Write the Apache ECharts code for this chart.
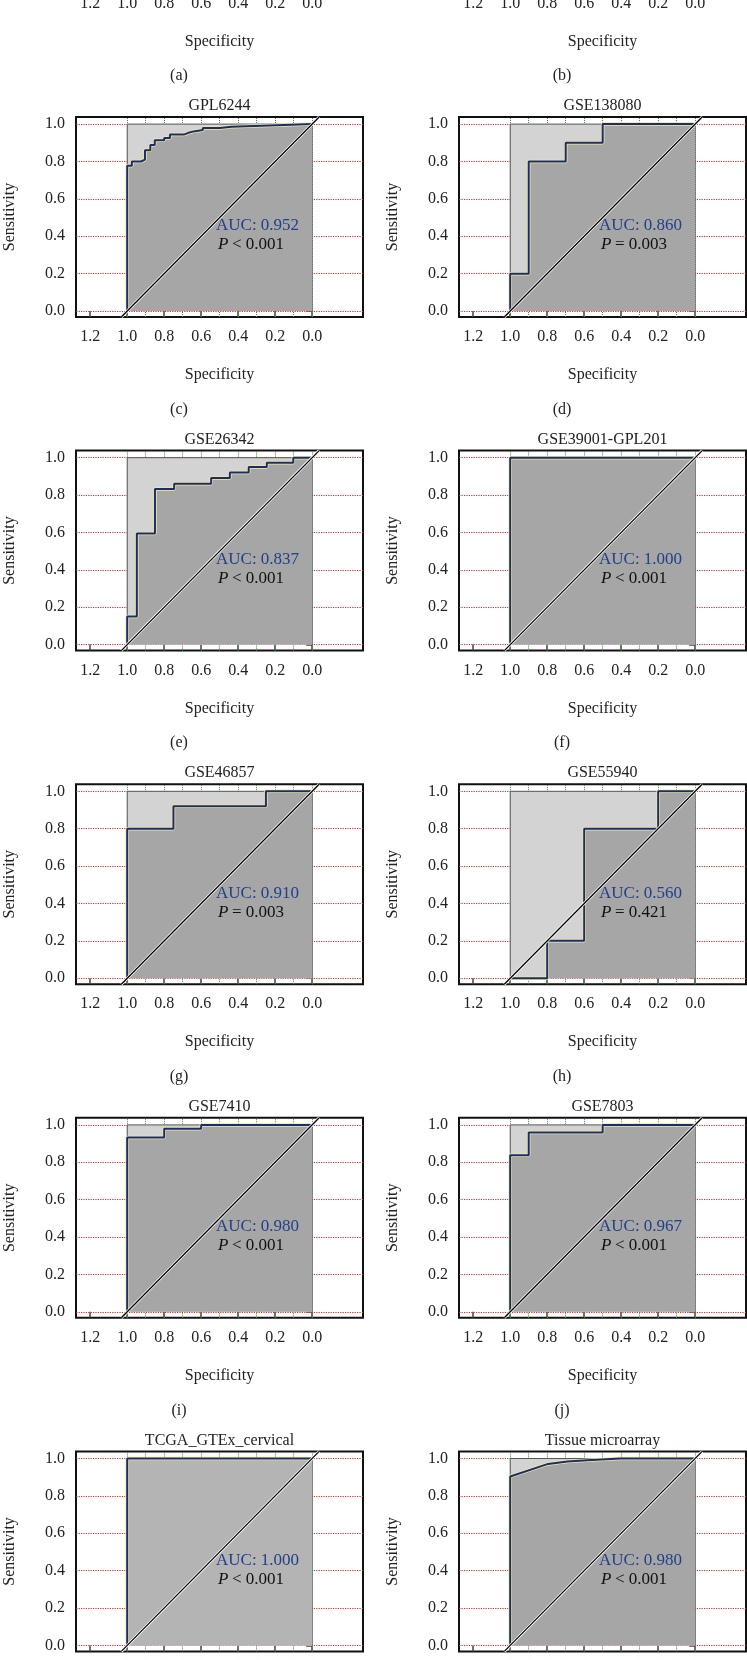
<!DOCTYPE html>
<html>
<head>
<meta charset="utf-8">
<script src="https://cdn.jsdelivr.net/npm/echarts@6/dist/echarts.min.js"></script>
<style>
html,body{margin:0;padding:0;width:747px;height:1660px;overflow:hidden;background:#fff;}
#main{position:absolute;left:0;top:-334px;width:747px;height:2040px;}
</style>
</head>
<body>
<div id="main"></div>
<script>
// 面板名称 (a)(b) 在可见区域上方，只露出x轴刻度
var titles = ['', '', 'GPL6244', 'GSE138080', 'GSE26342', 'GSE39001-GPL201', 'GSE46857', 'GSE55940',
              'GSE7410', 'GSE7803', 'TCGA_GTEx_cervical', 'Tissue microarray'];
var tags = ['(a)', '(b)', '(c)', '(d)', '(e)', '(f)', '(g)', '(h)', '(i)', '(j)', '(k)', '(l)'];
var aucText = ['', '', '0.952', '0.860', '0.837', '1.000', '0.910', '0.560', '0.980', '0.967', '1.000', '0.980'];
var pText = ['', '', '< 0.001', '= 0.003', '< 0.001', '< 0.001', '= 0.003', '= 0.421', '< 0.001', '< 0.001', '< 0.001', '< 0.001'];

// ROC 曲线顶点 (specificity, sensitivity)
var spec_GPL6244 = [1, 1, 0.975, 0.975, 0.925, 0.925, 0.904, 0.904, 0.875, 0.875, 0.851, 0.851, 0.80, 0.80, 0.769, 0.769,
                    0.694, 0.694, 0.673, 0.673, 0.641, 0.641, 0.591, 0.591, 0.498, 0.498, 0.436, 0.436, 0.151, 0.151, 0];
var sens_GPL6244 = [0, 0.777, 0.777, 0.80, 0.80, 0.81, 0.81, 0.86, 0.86, 0.888, 0.888, 0.914, 0.914, 0.926, 0.926, 0.944,
                    0.944, 0.952, 0.952, 0.961, 0.961, 0.968, 0.968, 0.979, 0.979, 0.986, 0.986, 0.995, 0.995, 1, 1];
var spec_GSE138080 = [1, 1, 0.9, 0.9, 0.7, 0.7, 0.5, 0.5, 0];
var sens_GSE138080 = [0, 0.2, 0.2, 0.8, 0.8, 0.9, 0.9, 1, 1];
var spec_GSE26342 = [1, 1, 0.948, 0.948, 0.85, 0.85, 0.746, 0.746, 0.546, 0.546, 0.445, 0.445, 0.343, 0.343, 0.245, 0.245, 0.102, 0.102, 0];
var sens_GSE26342 = [0, 0.15, 0.15, 0.594, 0.594, 0.832, 0.832, 0.86, 0.86, 0.891, 0.891, 0.921, 0.921, 0.95, 0.95, 0.973, 0.973, 1, 1];
var spec_GSE39001 = [1, 1, 0];
var sens_GSE39001 = [0, 1, 1];
var spec_GSE46857 = [1, 1, 0.75, 0.75, 0.25, 0.25, 0];
var sens_GSE46857 = [0, 0.8, 0.8, 0.92, 0.92, 1, 1];
var spec_GSE55940 = [1, 0.8, 0.8, 0.6, 0.6, 0.2, 0.2, 0];
var sens_GSE55940 = [0, 0, 0.2, 0.2, 0.8, 0.8, 1, 1];
var spec_GSE7410 = [1, 1, 0.8, 0.8, 0.6, 0.6, 0];
var sens_GSE7410 = [0, 0.932, 0.932, 0.979, 0.979, 1, 1];
var spec_GSE7803 = [1, 1, 0.9, 0.9, 0.5, 0.5, 0];
var sens_GSE7803 = [0, 0.837, 0.837, 0.959, 0.959, 1, 1];
var spec_TCGA = [1, 1, 0];
var sens_TCGA = [0, 1, 1];
var spec_TMA = [1, 1, 0.795, 0.69, 0.583, 0.404, 0];
var sens_TMA = [0, 0.904, 0.971, 0.984, 0.991, 1, 1];

var curveSpec = [null, null, spec_GPL6244, spec_GSE138080, spec_GSE26342, spec_GSE39001, spec_GSE46857,
                 spec_GSE55940, spec_GSE7410, spec_GSE7803, spec_TCGA, spec_TMA];
var curveSens = [null, null, sens_GPL6244, sens_GSE138080, sens_GSE26342, sens_GSE39001, sens_GSE46857,
                 sens_GSE55940, sens_GSE7410, sens_GSE7803, sens_TCGA, sens_TMA];

var xTicks = [0, 0.2, 0.4, 0.6, 0.8, 1.0, 1.2];
var yTicks = [0, 0.2, 0.4, 0.6, 0.8, 1.0];
var vGrid = [0, 0.1, 0.2, 0.3, 0.4, 0.5, 0.6, 0.7, 0.8, 0.9, 1.0];
var unitSquare = [[1, 0], [1, 1], [0, 1], [0, 0]];

var X_MIN = -0.275, X_MAX = 1.277, Y_MIN = -0.032, Y_MAX = 1.038;
var SHIFT = 334;          // 容器上移的像素
var BOX_W = 287, BOX_H = 200;
var colLeft = [76, 459];
var PITCH = 333.6;
var FONT = '"Liberation Serif", "DejaVu Serif", serif';

function buildOption() {
	var grids = [], xAxes = [], yAxes = [], series = [], graphics = [];
	for (var i = 0; i < 12; i++) {
		var col = i % 2, row = Math.floor(i / 2);
		var boxLeft = colLeft[col];
		var boxTop = 117 + PITCH * (row - 1) + SHIFT;

		grids.push({
			left: boxLeft, top: boxTop, width: BOX_W, height: BOX_H,
			show: true, backgroundColor: '#fff', borderColor: '#111', borderWidth: 2
		});
		xAxes.push({
			gridIndex: i, type: 'value', inverse: true, min: X_MIN, max: X_MAX,
			axisLine: {show: false},
			axisTick: {show: true, customValues: xTicks, length: 6, lineStyle: {color: '#444', width: 1.5}},
			axisLabel: {customValues: xTicks, margin: 12, color: '#222', fontSize: 16, fontFamily: FONT,
				formatter: function (v) { return (+v).toFixed(1); }},
			splitLine: {show: false}
		});
		yAxes.push({
			gridIndex: i, type: 'value', min: Y_MIN, max: Y_MAX,
			axisLine: {show: false},
			axisTick: {show: true, customValues: yTicks, length: 6, lineStyle: {color: '#444', width: 1.5}},
			axisLabel: {customValues: yTicks, margin: 11, color: '#222', fontSize: 16, fontFamily: FONT,
				formatter: function (v) { return (+v).toFixed(1); }},
			splitLine: {show: false}
		});

		// 框外文字
		graphics.push({type: 'text', x: boxLeft + 103, y: boxTop + 292.6, silent: true,
			style: {text: tags[i], fill: '#222', font: '16px ' + FONT, align: 'center', verticalAlign: 'middle'}});
		graphics.push({type: 'text', x: boxLeft + BOX_W / 2, y: boxTop + 258, silent: true,
			style: {text: 'Specificity', fill: '#222', font: '16px ' + FONT, align: 'center', verticalAlign: 'middle'}});
		graphics.push({type: 'text', x: boxLeft + BOX_W / 2, y: boxTop - 11, silent: true,
			style: {text: titles[i], fill: '#222', font: '16px ' + FONT, align: 'center', verticalAlign: 'middle'}});
		graphics.push({type: 'text', x: boxLeft - 66, y: boxTop + BOX_H / 2, rotation: Math.PI / 2, silent: true,
			style: {text: 'Sensitivity', fill: '#222', font: '16px ' + FONT, align: 'center', verticalAlign: 'middle'}});

		if (!curveSpec[i]) continue;

		// AUC / P
		graphics.push({type: 'text', x: boxLeft + 140, y: boxTop + 109, silent: true, z: 50,
			style: {text: 'AUC: ' + aucText[i], fill: '#22408a', font: '17px ' + FONT, verticalAlign: 'middle'}});
		graphics.push({type: 'text', x: boxLeft + 142, y: boxTop + 128, silent: true, z: 50,
			style: {text: 'P', fill: '#111', font: 'italic 17px ' + FONT, verticalAlign: 'middle'}});
		graphics.push({type: 'text', x: boxLeft + 156, y: boxTop + 128, silent: true, z: 50,
			style: {text: pText[i], fill: '#111', font: '17px ' + FONT, verticalAlign: 'middle'}});

		var pts = curveSpec[i].map(function (s, k) { return [s, curveSens[i][k]]; });
		var fill = (i === 10) ? '#b4b4b4' : '#a6a6a6';
		var diag = [[1 - Y_MIN, Y_MIN], [1 - Y_MAX, Y_MAX]];

		// 网格线（被方框遮住，只在边缘露出）
		series.push({
			type: 'line', xAxisIndex: i, yAxisIndex: i, z: 1, silent: true,
			data: [[0.5, 0.5]], symbol: 'none', lineStyle: {width: 0},
			markLine: {
				silent: true, z: 1, symbol: ['none', 'none'], label: {show: false},
				data: yTicks.map(function (v) {
					return {yAxis: v, lineStyle: {color: '#f02020', type: 'dotted', width: 1.2}};
				}).concat(vGrid.map(function (v) {
					return {xAxis: v, lineStyle: {color: '#2e9e2e', type: 'dotted', width: 1}};
				}))
			}
		});
		// 浅灰方框
		series.push({
			type: 'line', xAxisIndex: i, yAxisIndex: i, z: 2, silent: true,
			data: unitSquare, symbol: 'none',
			lineStyle: {color: '#555', width: 1},
			areaStyle: {color: '#d3d3d3', opacity: 1}
		});
		// 曲线下面积
		series.push({
			type: 'line', xAxisIndex: i, yAxisIndex: i, z: 3, silent: true,
			data: pts, symbol: 'none',
			lineStyle: {color: '#f2ee8c', width: 3.5},
			areaStyle: {color: fill, opacity: 1}
		});
		series.push({
			type: 'line', xAxisIndex: i, yAxisIndex: i, z: 4, silent: true,
			data: pts, symbol: 'none',
			lineStyle: {color: '#1b2a78', width: 2}
		});
		// 对角线
		series.push({
			type: 'line', xAxisIndex: i, yAxisIndex: i, z: 5, silent: true,
			data: diag, symbol: 'none', lineStyle: {color: '#fff', width: 2.8}
		});
		series.push({
			type: 'line', xAxisIndex: i, yAxisIndex: i, z: 6, silent: true,
			data: diag, symbol: 'none', lineStyle: {color: '#000', width: 1.3}
		});
	}
	return {animation: false, grid: grids, xAxis: xAxes, yAxis: yAxes, series: series, graphic: graphics};
}

var myChart = echarts.init(document.getElementById('main'));
myChart.setOption(buildOption());
</script>
</body>
</html>
